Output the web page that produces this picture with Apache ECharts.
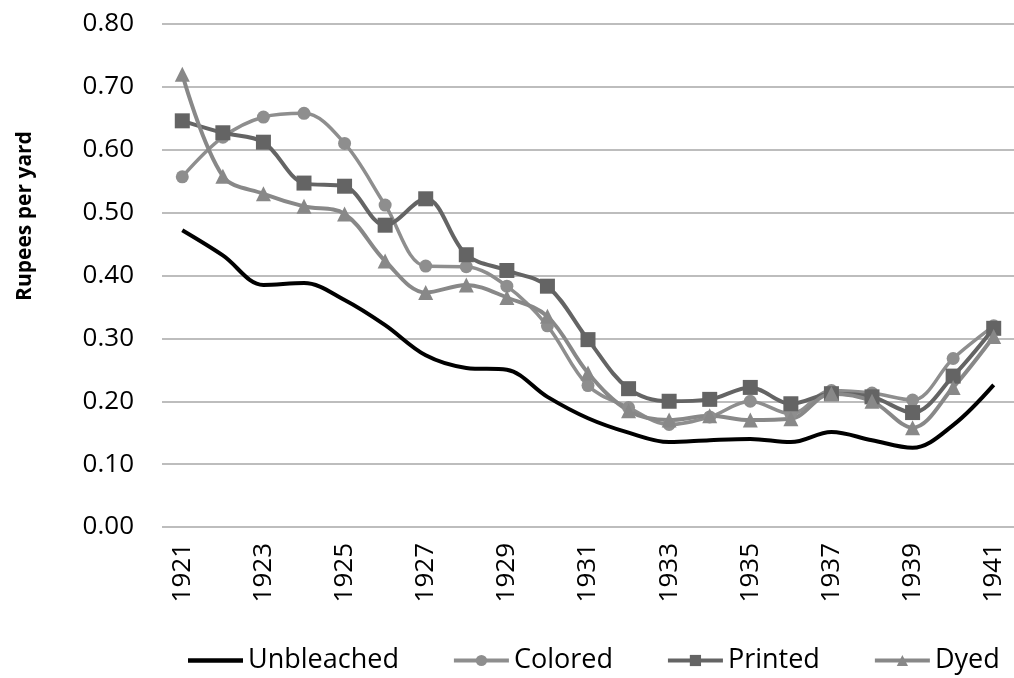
<!DOCTYPE html>
<html>
<head>
<meta charset="utf-8">
<script src="https://cdn.jsdelivr.net/npm/echarts@6/dist/echarts.min.js"></script>
<style>
  html, body { margin: 0; padding: 0; background: #fff; }
  #chart { width: 1014px; height: 678px; }
</style>
</head>
<body>
<div id="chart"></div>
<script>
// prices of cloth, rupees per yard, 1921-1941
const years = ['1921', '1922', '1923', '1924', '1925', '1926', '1927', '1928', '1929', '1930',
  '1931', '1932', '1933', '1934', '1935', '1936', '1937', '1938', '1939', '1940', '1941'];
const unbleached = [0.472, 0.432, 0.385, 0.388, 0.361, 0.321, 0.273, 0.253, 0.250, 0.207,
  0.173, 0.150, 0.135, 0.138, 0.140, 0.135, 0.151, 0.138, 0.126, 0.162, 0.226];
const colored = [0.557, 0.620, 0.652, 0.658, 0.610, 0.512, 0.415, 0.414, 0.383, 0.320,
  0.225, 0.190, 0.163, 0.175, 0.200, 0.180, 0.217, 0.213, 0.202, 0.268, 0.320];
const printed = [0.646, 0.627, 0.612, 0.547, 0.542, 0.480, 0.522, 0.433, 0.408, 0.383,
  0.298, 0.220, 0.200, 0.203, 0.222, 0.196, 0.212, 0.207, 0.182, 0.240, 0.316];
const dyed = [0.720, 0.558, 0.530, 0.510, 0.498, 0.423, 0.373, 0.385, 0.365, 0.335,
  0.245, 0.185, 0.170, 0.177, 0.170, 0.172, 0.212, 0.200, 0.158, 0.222, 0.303];
const yTicks = { min: 0, max: 0.8, interval: 0.1 };

const font = "'Open Sans', 'DejaVu Sans', sans-serif";
const chart = echarts.init(document.getElementById('chart'));

function line(name, data, color, width, symbol, size) {
  return {
    name: name,
    type: 'line',
    data: data,
    smooth: 0.35,
    symbol: symbol,
    symbolSize: size,
    showSymbol: symbol !== 'none',
    lineStyle: { color: color, width: width },
    itemStyle: { color: color },
    z: 2
  };
}

const option = {
  animation: false,
  grid: { left: 162, top: 24, width: 855, bottom: 151 },
  legend: {
    left: 188,
    bottom: 4,
    width: 826,
    padding: 0,
    itemWidth: 55,
    itemHeight: 14,
    itemGap: 53,
    lineStyle: { width: 4 },
    textStyle: { fontFamily: font, fontSize: 27, color: '#000' },
    data: [
      // plain thick line for the series without markers
      { name: 'Unbleached', icon: 'path://M0,0L55,0L55,4.5L0,4.5Z' },
      'Colored', 'Printed', 'Dyed'
    ]
  },
  graphic: [{
    type: 'text',
    x: 25,
    y: 216,
    rotation: Math.PI / 2,
    style: {
      text: 'Rupees per yard',
      fontFamily: font,
      fontWeight: 'bold',
      fontSize: 21,
      fill: '#000',
      align: 'center',
      verticalAlign: 'middle'
    }
  }],
  xAxis: {
    type: 'category',
    data: years,
    boundaryGap: true,
    axisLine: { show: false },
    axisTick: { show: false },
    axisLabel: { interval: 1, rotate: 90, margin: 16, fontFamily: font, fontSize: 26, color: '#000' }
  },
  yAxis: {
    type: 'value',
    min: yTicks.min,
    max: yTicks.max,
    interval: yTicks.interval,
    axisLine: { show: false },
    axisTick: { show: false },
    axisLabel: {
      margin: 28,
      fontFamily: font,
      fontSize: 26,
      color: '#000',
      formatter: v => v.toFixed(2)
    },
    splitLine: { lineStyle: { color: '#bdbdbd', width: 2 } }
  },
  series: [
    line('Unbleached', unbleached, '#000000', 4, 'none', 0),
    line('Colored', colored, '#8e8e8e', 3.5, 'circle', 13),
    line('Printed', printed, '#646464', 4, 'rect', 15),
    line('Dyed', dyed, '#888888', 4, 'triangle', 15)
  ]
};
chart.setOption(option);
</script>
</body>
</html>
